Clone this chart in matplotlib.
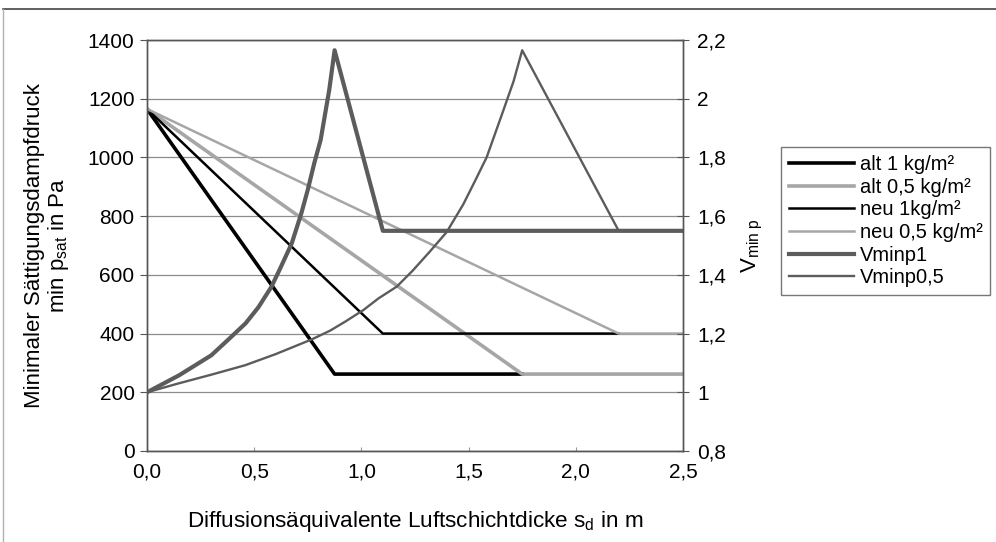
import matplotlib
matplotlib.use("Agg")
import matplotlib.pyplot as plt
from matplotlib.lines import Line2D
from matplotlib.ticker import FuncFormatter

plt.rcParams['font.family'] = ['Liberation Sans', 'DejaVu Sans']
plt.rcParams['mathtext.fontset'] = 'custom'
plt.rcParams['mathtext.rm'] = 'Liberation Sans'
plt.rcParams['mathtext.it'] = 'Liberation Sans'

# pressure lines (left axis, Pa)
alt1_x = [0.0, 0.875, 1.75]
alt1_y = [1165, 262, 262]
alt05_x = [0.0, 1.75, 2.5]
alt05_y = [1165, 262, 262]
neu1_x = [0.0, 1.1, 2.2]
neu1_y = [1165, 400, 400]
neu05_x = [0.0, 2.2, 2.5]
neu05_y = [1165, 400, 400]

# V_min p curves (right axis)
vmin1_x = [0.0, 0.15, 0.30, 0.38, 0.46, 0.52, 0.58, 0.62, 0.675, 0.72, 0.75,
           0.78, 0.81, 0.85, 0.875, 1.1, 2.5]
vmin1_y = [1.0, 1.058, 1.126, 1.18, 1.235, 1.29, 1.359, 1.42, 1.507, 1.61, 1.69,
           1.78, 1.86, 2.03, 2.165, 1.55, 1.55]
vmin05_x = [0.0, 0.146, 0.30, 0.457, 0.60, 0.768, 0.854, 0.923, 1.009, 1.08,
            1.165, 1.24, 1.32, 1.398, 1.475, 1.53, 1.584, 1.662, 1.71, 1.75,
            2.2, 2.5]
vmin05_y = [1.0, 1.03, 1.06, 1.092, 1.13, 1.18, 1.21, 1.24, 1.28, 1.32,
            1.36, 1.415, 1.48, 1.546, 1.64, 1.72, 1.80, 1.96, 2.06, 2.165,
            1.55, 1.55]

labels = ['alt 1 kg/m²', 'alt 0,5 kg/m²', 'neu 1kg/m²', 'neu 0,5 kg/m²',
          'Vminp1', 'Vminp0,5']

fig = plt.figure(figsize=(9.96, 5.42), dpi=100)
ax = fig.add_axes([147 / 996, 1 - 451 / 542, 536 / 996, 411 / 542])
ax2 = ax.twinx()

grey = '#a6a6a6'
h1, = ax.plot(alt1_x, alt1_y, color='black', lw=2.6, label=labels[0])
h2, = ax.plot(alt05_x, alt05_y, color=grey, lw=2.6, label=labels[1])
h3, = ax.plot(neu1_x, neu1_y, color='black', lw=1.8, label=labels[2])
h4, = ax.plot(neu05_x, neu05_y, color=grey, lw=1.8, label=labels[3])
h5, = ax2.plot(vmin1_x, vmin1_y, color='#5c5c5c', lw=3.0, label=labels[4])
h6, = ax2.plot(vmin05_x, vmin05_y, color='#5c5c5c', lw=1.7, label=labels[5])

ax.set_xlim(0, 2.5)
ax.set_ylim(0, 1400)
ax2.set_ylim(0.8, 2.2)
ax.set_xticks([0, 0.5, 1.0, 1.5, 2.0, 2.5])
ax.set_yticks(range(0, 1401, 200))
ax2.set_yticks([0.8, 1.0, 1.2, 1.4, 1.6, 1.8, 2.0, 2.2])

comma = lambda v, p: ('%.1f' % v).replace('.', ',')
ax.xaxis.set_major_formatter(FuncFormatter(comma))
ax2.yaxis.set_major_formatter(FuncFormatter(
    lambda v, p: '%g' % round(v, 1) if abs(v - round(v)) < 1e-6 else comma(v, p)))

ax.grid(axis='y', color='#8c8c8c', lw=0.9)
ax.set_axisbelow(True)
for a in (ax, ax2):
    for s in a.spines.values():
        s.set_color('#555555')
        s.set_linewidth(1.0)

ax.tick_params(axis='y', direction='out', length=5, labelsize=15, pad=4, color='#555555')
ax.tick_params(axis='x', direction='in', length=3, labelsize=15, pad=8, color='#999999')
ax2.tick_params(axis='y', direction='inout', length=8, labelsize=15, pad=6, color='#555555')

ax.set_xlabel('Diffusionsäquivalente Luftschichtdicke s$_\\mathregular{d}$ in m',
              fontsize=16.2, labelpad=20)
ax.set_ylabel('Minimaler Sättigungsdampfdruck\nmin p$_\\mathregular{sat}$ in Pa',
              fontsize=16, labelpad=12, linespacing=1.05)
ax2.set_ylabel('V$_\\mathregular{min\\ p}$', fontsize=16, labelpad=10)

leg = fig.legend([h1, h2, h3, h4, h5, h6], labels, loc='upper left',
                 bbox_to_anchor=(781 / 996, 1 - 147 / 542), fontsize=14.5,
                 frameon=True, fancybox=False, edgecolor='#555555',
                 handlelength=3.2, handletextpad=0.3, labelspacing=0.18,
                 borderpad=0.4, borderaxespad=0)
leg.get_frame().set_linewidth(1.0)

# outer chart border
fig.add_artist(Line2D([3 / 996, 1], [1 - 9 / 542, 1 - 9 / 542],
                      transform=fig.transFigure, color='#444444', lw=1.2))
fig.add_artist(Line2D([3 / 996, 3 / 996], [0, 1 - 9 / 542],
                      transform=fig.transFigure, color='#b0b0b0', lw=1.0))

fig.savefig('out.png', dpi=100)
